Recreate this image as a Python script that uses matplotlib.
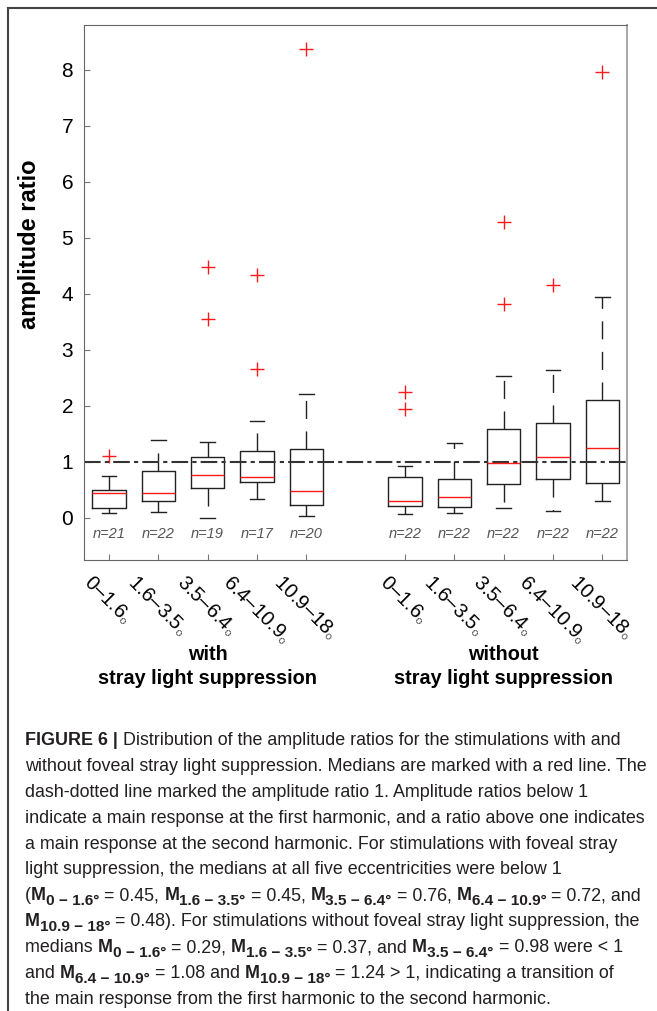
import matplotlib
matplotlib.use('Agg')
import matplotlib.pyplot as plt
from matplotlib.lines import Line2D

plt.rcParams['font.family'] = ['Liberation Sans', 'DejaVu Sans']
plt.rcParams['mathtext.fontset'] = 'custom'
plt.rcParams['mathtext.rm'] = 'Liberation Sans'
plt.rcParams['mathtext.it'] = 'Liberation Sans:italic'
plt.rcParams['mathtext.bf'] = 'Liberation Sans:bold'

# values
positions = [1, 2, 3, 4, 5, 7, 8, 9, 10, 11]
ecc = ['0–1.6', '1.6–3.5', '3.5–6.4', '6.4–10.9', '10.9–18']
ecc_sub = ['0 − 1.6', '1.6 − 3.5', '3.5 − 6.4', '6.4 − 10.9', '10.9 − 18']
medians = [0.45, 0.45, 0.76, 0.72, 0.48, 0.29, 0.37, 0.98, 1.08, 1.24]
q1 = [0.17, 0.29, 0.53, 0.64, 0.23, 0.21, 0.20, 0.61, 0.70, 0.62]
q3 = [0.50, 0.83, 1.08, 1.20, 1.22, 0.72, 0.69, 1.58, 1.70, 2.10]
whislo = [0.09, 0.10, 0.00, 0.33, 0.03, 0.06, 0.09, 0.17, 0.12, 0.29]
whishi = [0.75, 1.39, 1.36, 1.73, 2.21, 0.92, 1.33, 2.54, 2.63, 3.94]
fliers = [[1.10], [], [3.55, 4.47], [2.66, 4.34], [8.38],
          [1.94, 2.25], [], [3.82, 5.29], [4.15], [7.96]]
n_vals = [21, 22, 19, 17, 20, 22, 22, 22, 22, 22]
groups = ['with', 'without']
group_pos = [3, 9]

fig = plt.figure(figsize=(6.57, 10.11), dpi=100)
ax = fig.add_axes([84.3/657, 1-560/1011, (627-84.3)/657, (560-25)/1011])

stats = []
for i in range(len(positions)):
    stats.append(dict(med=medians[i], q1=q1[i], q3=q3[i],
                      whislo=whislo[i], whishi=whishi[i], fliers=fliers[i]))

ax.bxp(stats, positions=positions, widths=0.675, capwidths=0.3,
       manage_ticks=False,
       boxprops=dict(color='#222222', lw=1),
       whiskerprops=dict(color='#222222', lw=1, linestyle=(0, (13, 9))),
       capprops=dict(color='#222222', lw=1),
       medianprops=dict(color='#ff1a1a', lw=1),
       flierprops=dict(marker='+', markeredgecolor='#ff1a1a', markersize=9.5, mew=1))

# ratio 1 reference line
ax.axhline(1, color='#333333', lw=1.5, linestyle=(0, (8, 2, 2, 2)))

for p, n in zip(positions, n_vals):
    ax.text(p, -0.29, 'n=%d' % n, ha='center', va='center', style='italic',
            color='#555555', fontsize=10.5)

ax.set_xlim(0.5, 11.5)
ax.set_ylim(-0.755, 8.80)
ax.set_yticks(range(9))
ax.set_xticks(positions)
ax.set_xticklabels([e + r'$_{\circ}$' for e in ecc] * 2, rotation=-45, fontsize=14.5)
ax.tick_params(axis='y', labelsize=15)
ax.tick_params(direction='in', length=4, color='#777777', width=0.8, pad=8)
for s in ['left', 'top', 'bottom']:
    ax.spines[s].set_color('#666666')
ax.spines['right'].set_color('#aaaaaa')
ax.spines['right'].set_linewidth(1.5)

ax.set_ylabel('amplitude ratio', fontweight='bold', fontsize=17)
ax.yaxis.set_label_coords(-0.08, 0.59)

for gx, g in zip(group_pos, groups):
    ax.text(gx, -2.45, g, ha='center', va='center', fontweight='bold',
            fontsize=14.3, clip_on=False)
    ax.text(gx, -2.88, 'stray light suppression', ha='center', va='center',
            fontweight='bold', fontsize=14.3, clip_on=False)

# panel frame
fig.add_artist(Line2D([8/657, 1], [1-8/1011, 1-8/1011], transform=fig.transFigure,
                      color='#444444', lw=1.5))
fig.add_artist(Line2D([8/657, 8/657], [0, 1-8/1011], transform=fig.transFigure,
                      color='#444444', lw=1.5))

# caption, drawn piece by piece: 'r' regular, 'b' bold, 's' bold subscript
def M(k):
    return [('M', 'b'), (ecc_sub[k] + '°', 's')]

m = ['%.2f' % v for v in medians]
lines = [
    [('FIGURE 6 | ', 'b'), ('Distribution of the amplitude ratios for the stimulations with and', 'r')],
    [('without foveal stray light suppression. Medians are marked with a red line. The', 'r')],
    [('dash-dotted line marked the amplitude ratio 1. Amplitude ratios below 1', 'r')],
    [('indicate a main response at the first harmonic, and a ratio above one indicates', 'r')],
    [('a main response at the second harmonic. For stimulations with foveal stray', 'r')],
    [('light suppression, the medians at all five eccentricities were below 1', 'r')],
    [('(', 'r')] + M(0) + [(' = ' + m[0] + ', ', 'r')] + M(1) + [(' = ' + m[1] + ', ', 'r')]
    + M(2) + [(' = ' + m[2] + ', ', 'r')] + M(3) + [(' = ' + m[3] + ', and', 'r')],
    M(4) + [(' = ' + m[4] + '). For stimulations without foveal stray light suppression, the', 'r')],
    [('medians ', 'r')] + M(0) + [(' = ' + m[5] + ', ', 'r')] + M(1) + [(' = ' + m[6] + ', and ', 'r')]
    + M(2) + [(' = ' + m[7] + ' were < 1', 'r')],
    [('and ', 'r')] + M(3) + [(' = ' + m[8] + ' and ', 'r')] + M(4)
    + [(' = ' + m[9] + ' > 1, indicating a transition of', 'r')],
    [('the main response from the first harmonic to the second harmonic.', 'r')],
]

r = fig.canvas.get_renderer()
cap_color = '#231f20'


def text_w(s, size, weight):
    t = fig.text(0, 0, s, fontsize=size, fontweight=weight)
    w = t.get_window_extent(r).width
    t.remove()
    return w


def adv(s, size, weight):
    # advance width including leading/trailing spaces
    return text_w('x' + s + 'x', size, weight) - text_w('xx', size, weight)


fs = 12 * 619.0 / text_w(lines[3][0][0], 12, 'normal')
sub_fs = fs * 0.86

for i, line in enumerate(lines):
    x = 25.0
    y = 745 + 25.9 * i
    for s, kind in line:
        if kind == 's':
            size, weight, dy = sub_fs, 'bold', 0.25 * fs * 100 / 72
        elif kind == 'b':
            size, weight, dy = fs, 'bold', 0
        else:
            size, weight, dy = fs, 'normal', 0
        fig.text(x/657, 1 - (y + dy)/1011, s, ha='left', va='baseline',
                 fontsize=size, fontweight=weight, color=cap_color)
        x += adv(s, size, weight)

fig.savefig('out.png', dpi=100)
